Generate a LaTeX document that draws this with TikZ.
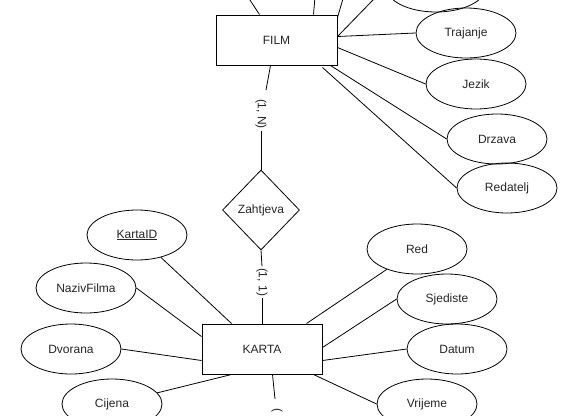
\documentclass[tikz,border=0pt]{standalone}
\usepackage{fontspec}
\setmainfont{Liberation Sans}
\usetikzlibrary{shapes.geometric,calc}
\begin{document}
\begin{tikzpicture}[x=1pt,y=-1pt,
  lbl/.style={font=\fontsize{12}{14}\selectfont, text=black!85},
  ent/.style={lbl, draw, line width=1pt, minimum width=120pt, minimum height=50pt, inner sep=0pt},
  attr/.style={lbl, draw, ellipse, line width=0.8pt, minimum width=100pt, minimum height=50pt, inner sep=0pt},
  rel/.style={lbl, draw, diamond, line width=0.8pt, minimum width=77pt, minimum height=80pt, inner sep=0pt},
  card/.style={lbl, rotate=-90, inner sep=1.5pt},
  conn/.style={line width=0.8pt}]
\useasboundingbox (0,0) rectangle (577,415);
\clip (0,0) rectangle (577,415);
\fill[white] (0,0) rectangle (577,415);

% entities and relationship
\node[ent, minimum width=121pt] (film) at (276.5,40) {FILM};
\node[ent] (karta) at (262,349) {KARTA};
\node[rel] (zahtjeva) at (261,210) {Zahtjeva};

% FILM attributes
\node[attr] (topell) at (436,-13) {};
\node[attr] (trajanje) at (466,33) {Trajanje};
\node[attr] (jezik) at (476,84) {Jezik};
\node[attr] (drzava) at (497,139) {Drzava};
\node[attr] (redatelj) at (507,188) {Redatelj};

% KARTA attributes
\node[attr] (kartaid) at (137,235) {\underline{KartaID}};
\node[attr] (naziv) at (86,288) {NazivFilma};
\node[attr] (dvorana) at (71,349) {Dvorana};
\node[attr] (cijena) at (112,404) {Cijena};
\node[attr] (red) at (417,249) {Red};
\node[attr] (sjediste) at (447,299) {Sjediste};
\node[attr] (datum) at (457,349) {Datum};
\node[attr] (vrijeme) at (427,404) {Vrijeme};

% cardinality labels
\node[card] (c1n) at (261,114) {(1, N)};
\node[card] (c11) at (262,282) {(1, 1)};
\node[card, anchor=west] (cbot) at (277,407) {(};

% free ends
\coordinate (t1) at (240,-15);
\coordinate (t2) at (316,-15);
\coordinate (t3) at (347,-15);
\coordinate (fbend) at (266,90);
\coordinate (kbend) at (275,399);

% FILM connectors
\draw[conn] ($(film.north west)+(44,0)$) -- (t1);
\draw[conn] ($(film.north west)+(98,0)$) -- (t2);
\draw[conn] ($(film.north east)+(0,3)$) -- (t3);
\draw[conn] ($(film.north east)+(0,22)$) -- (topell.west);
\draw[conn] ($(film.north east)+(0,22)$) -- (trajanje.west);
\draw[conn] ($(film.north east)+(0,33)$) -- (jezik.west);
\draw[conn] ($(film.south east)+(-7,0)$) -- (drzava.west);
\draw[conn] ($(film.south east)+(-15,2)$) -- (redatelj.west);

% relationship connectors
\draw[conn] ($(film.south west)+(55,0)$) -- (fbend);
\draw[conn] (c1n.east) -- (zahtjeva.north);
\draw[conn] (zahtjeva.south) -- (c11.west);
\draw[conn] (c11.east) -- (karta.north);
\draw[conn] ($(karta.south west)+(71,0)$) -- (kbend);

% KARTA connectors
\draw[conn] ($(karta.north west)+(30,0)$) -- (kartaid);
\draw[conn] ($(karta.north west)+(0,13)$) -- (naziv.east);
\draw[conn] ($(karta.north west)+(0,37)$) -- (dvorana.east);
\draw[conn] ($(karta.south west)+(30,0)$) -- (cijena);
\draw[conn] ($(karta.north west)+(105,0)$) -- (red);
\draw[conn] ($(karta.north east)+(0,24)$) -- (sjediste.west);
\draw[conn] ($(karta.north east)+(0,37)$) -- (datum.west);
\draw[conn] ($(karta.south east)+(-9,0)$) -- (vrijeme.west);
\end{tikzpicture}
\end{document}
